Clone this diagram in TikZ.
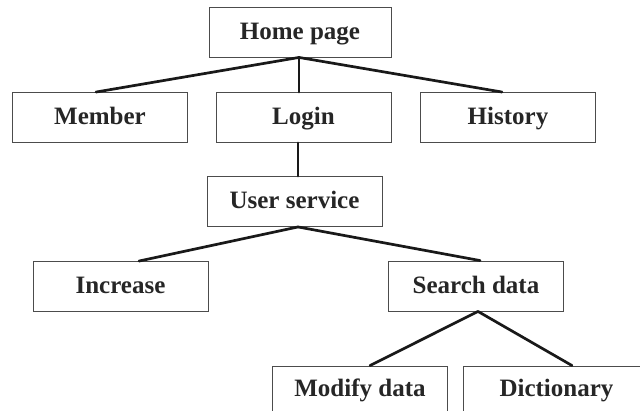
\documentclass[tikz,border=0pt]{standalone}
\usepackage{fontspec}
\setmainfont{Liberation Serif}
\begin{document}
\begin{tikzpicture}[x=1pt,y=-1pt,
  box/.style={draw=black!70, line width=0.9pt, minimum width=175pt, minimum height=50pt,
    inner sep=0pt, text height=19pt, text depth=4pt,
    font=\fontsize{25}{29}\selectfont\bfseries, text=black!85},
  conn/.style={line width=2.7pt, black!90, line cap=round}]
\useasboundingbox (0,0) rectangle (640,411);
\fill[white] (0,0) rectangle (640,411);
\clip (0,0) rectangle (640,411);
\node[box, minimum width=182pt] (hp) at (300,32) {Home page};
\node[box] (mem) at (100,117.5) {Member};
\node[box] (log) at (303.5,117.5) {Login};
\node[box] (his) at (508,117.5) {History};
\node[box] (us) at (294.5,201.5) {User service};
\node[box] (inc) at (120.5,286.5) {Increase};
\node[box] (sd) at (476,286) {Search data};
\node[box, minimum height=47pt] (mod) at (360,389.5) {Modify data};
\node[box, minimum width=187pt, minimum height=47pt] (dic) at (556.5,389.5) {Dictionary};
\draw[conn] ([xshift=-1pt]hp.south) -- ([xshift=-4pt]mem.north);
\draw[conn] ([xshift=-1pt]hp.south) -- ([xshift=-4.5pt]log.north);
\draw[conn] ([xshift=-1pt]hp.south) -- ([xshift=-6pt]his.north);
\draw[conn] ([xshift=-5.5pt]log.south) -- ([xshift=3.5pt]us.north);
\draw[conn] ([xshift=3.5pt]us.south) -- ([xshift=18.5pt]inc.north);
\draw[conn] ([xshift=3.5pt]us.south) -- ([xshift=4pt]sd.north);
\draw[conn] ([xshift=2pt]sd.south) -- ([xshift=10pt]mod.north);
\draw[conn] ([xshift=2pt]sd.south) -- ([xshift=15.5pt]dic.north);
\end{tikzpicture}
\end{document}
